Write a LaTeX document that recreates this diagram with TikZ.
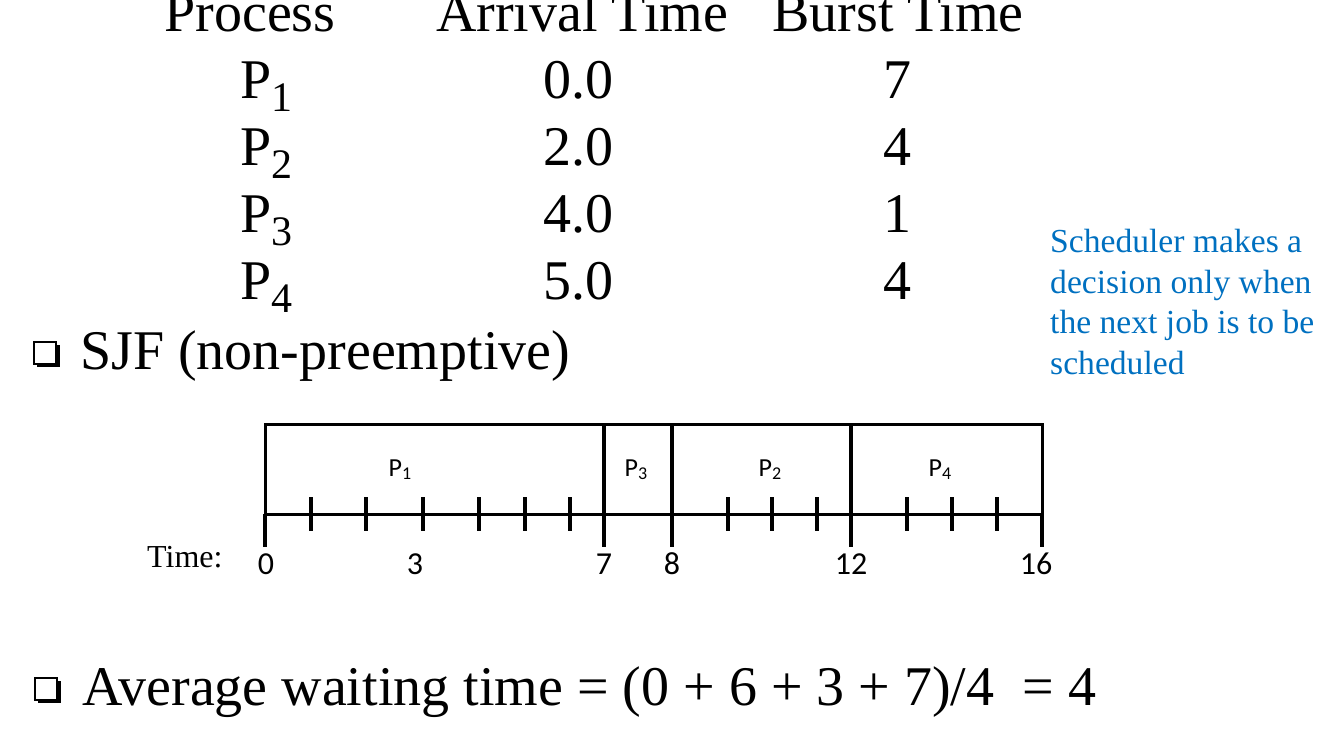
\documentclass[tikz,border=0pt]{standalone}
\usepackage{fontspec}
\setmainfont{Liberation Serif}
\newfontfamily\chartfont{Carlito}
\definecolor{noteblue}{RGB}{0,112,192}
\newcommand{\psub}[1]{P\raisebox{-13.4pt}{\fontsize{42}{42}\selectfont #1}}
\newcommand{\gsub}[1]{P\raisebox{-3pt}{\fontsize{18}{18}\selectfont #1}}

\begin{document}
\begin{tikzpicture}[x=1pt,y=-1pt,
  big/.style={font=\fontsize{56}{67}\selectfont, inner sep=0pt, anchor=base},
  plabel/.style={font=\chartfont\fontsize{26}{30}\selectfont, inner sep=0pt, anchor=base},
  tnum/.style={font=\chartfont\fontsize{32}{38}\selectfont, inner sep=0pt, anchor=base},
  thinline/.style={line width=3pt},
  bar/.style={line width=4.5pt},
  bulletbox/.style={fill=white, draw=black, line width=1.5pt}]
\useasboundingbox (0,0) rectangle (1330,737);

%Table
\node[big] (hproc) at (250,31) {Process};
\node[big] (harr) at (582,31) {Arrival Time};
\node[big] (hburst) at (898,31) {Burst Time};

\node[big,anchor=base west] (p1) at (240,98) {\psub{1}};
\node[big,anchor=base west] (p2) at (240,165) {\psub{2}};
\node[big,anchor=base west] (p3) at (240,232) {\psub{3}};
\node[big,anchor=base west] (p4) at (240,299) {\psub{4}};

\node[big] (a1) at (578,98) {0.0};
\node[big] (a2) at (578,165) {2.0};
\node[big] (a3) at (578,232) {4.0};
\node[big] (a4) at (578,299) {5.0};

\node[big] (b1) at (897,98) {7};
\node[big] (b2) at (897,165) {4};
\node[big] (b3) at (897,232) {1};
\node[big] (b4) at (897,299) {4};

\node[font=\fontsize{33.6}{40.5}\selectfont, text=noteblue, align=left, inner sep=0pt, anchor=north west] (note) at (1050,229)
  {Scheduler makes a\\decision only when\\the next job is to be\\scheduled};

%Bullet 1
\fill (37,345) rectangle (60,367);
\draw[bulletbox] (34,342) rectangle (56,364);
\node[big,anchor=base west] (sjf) at (80,369) {SJF (non-preemptive)};

%Gantt chart
\draw[thinline] (265,514) -- (265,424) -- (1042,424) -- (1042,514);
\draw[thinline] (265,514) -- (1042,514);

\draw[bar] (265,514) -- (265,547);
\draw[bar] (604,424) -- (604,547);
\draw[bar] (672,424) -- (672,547);
\draw[bar] (851,424) -- (851,547);
\draw[bar] (1042,514) -- (1042,547);

\draw[bar] (311,497) -- (311,531);
\draw[bar] (366,497) -- (366,531);
\draw[bar] (423,497) -- (423,531);
\draw[bar] (479,497) -- (479,531);
\draw[bar] (525,497) -- (525,531);
\draw[bar] (570,497) -- (570,531);
\draw[bar] (728,497) -- (728,531);
\draw[bar] (772,497) -- (772,531);
\draw[bar] (817,497) -- (817,531);
\draw[bar] (907,497) -- (907,531);
\draw[bar] (952,497) -- (952,531);
\draw[bar] (997,497) -- (997,531);

\node[plabel] (g1) at (400,476) {\gsub{1}};
\node[plabel] (g3) at (636,476) {\gsub{3}};
\node[plabel] (g2) at (770,476) {\gsub{2}};
\node[plabel] (g4) at (940,476) {\gsub{4}};

\node[font=\fontsize{32}{38}\selectfont, inner sep=0pt, anchor=base west] (time) at (147,567) {Time:};
\node[tnum] (t0) at (266,574) {0};
\node[tnum] (t3) at (415,574) {3};
\node[tnum] (t7) at (604,574) {7};
\node[tnum] (t8) at (672,574) {8};
\node[tnum] (t12) at (851,574) {12};
\node[tnum] (t16) at (1036,574) {16};

%Bullet 2
\fill (38,681) rectangle (61,703);
\draw[bulletbox] (35,678) rectangle (57,700);
\node[big,anchor=base west] (avg) at (82,705) {Average waiting time = (0 + 6 + 3 + 7)/4 \ = 4};

\end{tikzpicture}
\end{document}
